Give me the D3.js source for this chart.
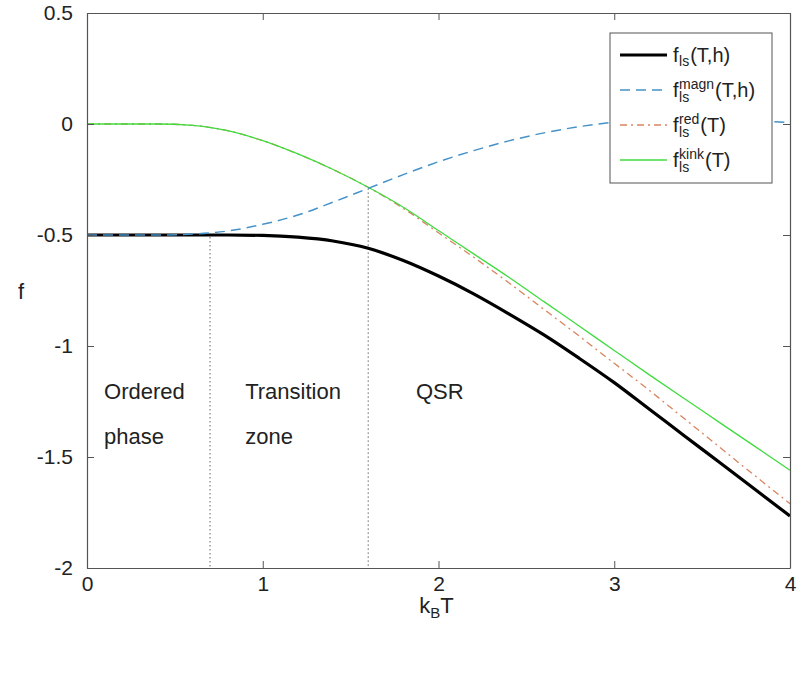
<!DOCTYPE html>
<html>
<head>
<meta charset="utf-8">
<script src="https://cdn.jsdelivr.net/npm/d3@7"></script>
<style>
  body { margin: 0; background: #fff; }
  svg text { font-family: "Liberation Sans", Arial, sans-serif; fill: #222; }
</style>
</head>
<body>
<div id="chart"></div>
<script>
// Dados //
const temps = [0, 0.2, 0.4, 0.6, 0.8, 1.0, 1.2, 1.4, 1.6, 1.8, 2.0, 2.2, 2.4, 2.6, 2.8, 3.0, 3.2, 3.4, 3.6, 3.8, 4.0]
const fTotal = [-0.5, -0.5, -0.5, -0.5, -0.5, -0.502, -0.51, -0.527, -0.56, -0.615, -0.685, -0.765, -0.855, -0.95, -1.055, -1.165, -1.285, -1.405, -1.525, -1.645, -1.766]
const fMagn = [-0.5, -0.5, -0.5, -0.496, -0.482, -0.452, -0.41, -0.352, -0.29, -0.228, -0.17, -0.12, -0.076, -0.04, -0.012, 0.008, 0.018, 0.021, 0.02, 0.014, 0.006]
const fRed = [0, 0, 0, -0.006, -0.03, -0.075, -0.135, -0.205, -0.285, -0.38, -0.49, -0.6, -0.715, -0.835, -0.955, -1.078, -1.2, -1.328, -1.456, -1.584, -1.71]
const fKink = [0, 0, 0, -0.006, -0.03, -0.075, -0.135, -0.205, -0.285, -0.375, -0.48, -0.585, -0.69, -0.8, -0.91, -1.02, -1.13, -1.238, -1.345, -1.452, -1.56]
const xTicks = [0, 1, 2, 3, 4]
const yTicks = [0.5, 0, -0.5, -1, -1.5, -2]
const limites = [0.7, 1.6]
const regioes = [
  { x: 0.097, linhas: ["Ordered", "phase"] },
  { x: 0.9, linhas: ["Transition", "zone"] },
  { x: 1.872, linhas: ["QSR"] }
]

// Renderiza o gráfico //
const width = 802, height = 687
const mLeft = 87, mRight = 790, mTop = 13, mBottom = 568

const svg = d3.select("#chart").append("svg")
  .attr("width", width)
  .attr("height", height)

const x = d3.scaleLinear().domain([0, 4]).range([mLeft, mRight])
const y = d3.scaleLinear().domain([-2, 0.5]).range([mBottom, mTop])

const series = [
  { name: "total", values: fTotal, color: "#000", width: 3.2, dash: null },
  { name: "red", values: fRed, color: "#d9845e", width: 1.3, dash: "7,4,2,4" },
  { name: "kink", values: fKink, color: "#3fdc3f", width: 1.3, dash: null },
  { name: "magn", values: fMagn, color: "#4592c9", width: 1.5, dash: "10,6" }
]

// Linhas pontilhadas das regiões
svg.append("line")
  .attr("x1", x(limites[0])).attr("x2", x(limites[0]))
  .attr("y1", y(-0.5) + 2).attr("y2", y(-2))
  .attr("stroke", "#666").attr("stroke-width", 1).attr("stroke-dasharray", "1.5,2.5")
svg.append("line")
  .attr("x1", x(limites[1])).attr("x2", x(limites[1]))
  .attr("y1", y(-0.29)).attr("y2", y(-2))
  .attr("stroke", "#666").attr("stroke-width", 1).attr("stroke-dasharray", "1.5,2.5")

const line = d3.line().curve(d3.curveMonotoneX)

series.forEach(s => {
  svg.append("path")
    .datum(temps.map((t, i) => [x(t), y(s.values[i])]))
    .attr("d", line)
    .attr("fill", "none")
    .attr("stroke", s.color)
    .attr("stroke-width", s.width)
    .attr("stroke-dasharray", s.dash)
})

// Eixos com moldura
const axisColor = "#555"
const fmt = d => String(d)
const gBottom = svg.append("g").attr("transform", "translate(0," + mBottom + ")")
  .call(d3.axisBottom(x).tickValues(xTicks).tickFormat(fmt).tickSizeInner(-7).tickSizeOuter(0).tickPadding(8))
const gTop = svg.append("g").attr("transform", "translate(0," + mTop + ")")
  .call(d3.axisTop(x).tickValues(xTicks).tickFormat("").tickSizeInner(-7).tickSizeOuter(0))
const gLeft = svg.append("g").attr("transform", "translate(" + mLeft + ",0)")
  .call(d3.axisLeft(y).tickValues(yTicks).tickFormat(fmt).tickSizeInner(-7).tickSizeOuter(0).tickPadding(14))
const gRight = svg.append("g").attr("transform", "translate(" + mRight + ",0)")
  .call(d3.axisRight(y).tickValues(yTicks).tickFormat("").tickSizeInner(-7).tickSizeOuter(0))

;[gBottom, gTop, gLeft, gRight].forEach(g => {
  g.select(".domain").attr("stroke", axisColor).attr("stroke-width", 1.2)
  g.selectAll(".tick line").attr("stroke", axisColor).attr("stroke-width", 1)
  g.selectAll(".tick text").style("font-size", "21px").attr("fill", "#222")
})

// Rótulos dos eixos
const xLabel = svg.append("text")
  .attr("x", (mLeft + mRight) / 2 - 2).attr("y", 613)
  .attr("text-anchor", "middle").style("font-size", "22px")
xLabel.append("tspan").text("k")
xLabel.append("tspan").attr("dy", 5).style("font-size", "15px").text("B")
xLabel.append("tspan").attr("dy", -5).text("T")

svg.append("text")
  .attr("x", 21).attr("y", 299)
  .attr("text-anchor", "middle").style("font-size", "22px")
  .text("f")

// Textos das regiões
regioes.forEach(r => {
  r.linhas.forEach((l, i) => {
    svg.append("text")
      .attr("x", x(r.x)).attr("y", 399 + i * 45)
      .style("font-size", "22px")
      .text(l)
  })
})

// Legenda
const legend = svg.append("g").attr("transform", "translate(610,33)")
legend.append("rect")
  .attr("width", 162).attr("height", 150)
  .attr("fill", "#fff").attr("stroke", "#555").attr("stroke-width", 1)

const legendSeries = [series[0], series[3], series[1], series[2]]
const legendSup = ["", "magn", "red", "kink"]
const legendArgs = ["(T,h)", "(T,h)", "(T)", "(T)"]

// mede a largura de um texto provisório
function medir(txt, size) {
  const t = legend.append("text").style("font-size", size).text(txt)
  const w = t.node().getComputedTextLength()
  t.remove()
  return w
}

legendSeries.forEach((s, i) => {
  const ly = 22 + i * 35
  legend.append("line")
    .attr("x1", 10).attr("x2", 57)
    .attr("y1", ly).attr("y2", ly)
    .attr("stroke", s.color).attr("stroke-width", s.width)
    .attr("stroke-dasharray", s.dash)
  const fx = 63
  const sx = fx + medir("f", "20px") + 0.5
  const t = legend.append("text").attr("x", fx).attr("y", ly + 7).style("font-size", "20px")
  t.append("tspan").text("f")
  let endX
  if (legendSup[i]) {
    endX = sx + Math.max(medir(legendSup[i], "14px"), medir("ls", "14px")) + 1
    t.append("tspan").attr("x", sx).attr("dy", -8).style("font-size", "14px").text(legendSup[i])
    t.append("tspan").attr("x", sx).attr("dy", 13).style("font-size", "14px").text("ls")
    t.append("tspan").attr("x", endX).attr("dy", -5).text(legendArgs[i])
  } else {
    endX = sx + medir("ls", "14px") + 1
    t.append("tspan").attr("x", sx).attr("dy", 4).style("font-size", "14px").text("ls")
    t.append("tspan").attr("x", endX).attr("dy", -4).text(legendArgs[i])
  }
})

// Legenda da figura (cortada na borda)
svg.append("text")
  .attr("x", 400).attr("y", 703)
  .attr("text-anchor", "middle")
  .style("font-family", "'Liberation Serif', serif")
  .style("font-size", "20px")
  .attr("fill", "#999")
  .text("Figure 3: f(T,h) = f_ls in the Ising model")
</script>
</body>
</html>
